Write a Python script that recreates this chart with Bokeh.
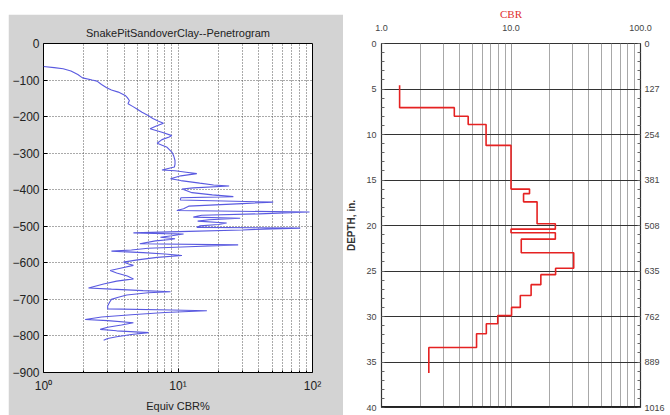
import math
from bokeh.plotting import figure
from bokeh.models import Range1d, FixedTicker, LinearAxis, Span, Spacer, Label
from bokeh.layouts import row, column
from bokeh.embed import file_html
from bokeh.resources import INLINE

# ---------------- Left panel: penetrogram ----------------
pen_depth = [-63, -66, -69, -75, -85, -94, -100, -103, -112, -121, -127, -133, -142, -148,
             -156, -165, -172, -179, -188, -197, -205, -212, -218, -226, -233, -243, -252,
             -256, -263, -273, -284, -297, -308, -320, -330, -338, -346, -348, -352, -356,
             -362, -370, -375, -382, -387, -390, -395, -398, -402, -408, -414, -419, -422,
             -428, -434, -438, -445, -452, -457, -461, -466, -470, -475, -478, -482, -486,
             -491, -495, -499, -503, -505, -507, -510, -514, -518, -520, -521, -526, -530,
             -534, -536, -540, -548, -551, -556, -560, -565, -568, -572, -576, -580, -585,
             -592, -598, -603, -607, -614, -621, -628, -636, -644, -650, -658, -669, -672,
             -676, -679, -682, -688, -694, -700, -708, -718, -726, -729, -731, -736, -742,
             -748, -755, -758, -764, -770, -776, -782, -786, -791, -796, -802, -807, -812]
pen_cbr = [1.0, 1.2, 1.4, 1.6, 1.8, 1.95, 2.3, 2.5, 2.7, 2.95, 3.2, 3.6, 4.05, 4.2,
           4.35, 4.25, 4.6, 4.95, 5.4, 6.0, 6.5, 7.1, 7.8, 6.9, 6.2, 7.6, 9.0,
           8.6, 7.6, 7.0, 8.3, 9.0, 9.3, 9.5, 9.5, 9.4, 7.6, 9.5, 11.5, 13.8,
           10.5, 8.8, 10.5, 14.5, 18.4, 24.0, 13.0, 10.7, 11.5, 12.7, 18.0, 25.8, 10.5,
           10.4, 51.0, 30.0, 12.0, 11.0, 9.8, 95.0, 40.0, 15.0, 13.0, 29.0, 17.0, 14.0,
           23.0, 20.0, 14.5, 13.8, 81.0, 50.0, 30.0, 12.0, 4.66, 8.0, 11.0, 9.0, 7.4,
           9.5, 8.8, 6.8, 5.2, 28.0, 12.0, 6.0, 4.5, 3.2, 5.5, 8.0, 10.7, 7.0,
           5.0, 3.93, 4.3, 4.66, 3.8, 3.13, 3.5, 4.2, 4.66, 3.5, 2.8, 2.16, 3.2,
           5.5, 8.8, 6.0, 4.16, 3.6, 3.2, 3.1, 3.0, 3.0, 9.0, 16.4, 8.0, 4.5,
           2.7, 2.04, 3.0, 4.66, 3.8, 3.0, 2.64, 3.5, 6.04, 4.5, 3.5, 3.0, 2.8]

left_x_ticks = [1, 10, 100]
left_x_labels = ["10\u2070", "10\u00b9", "10\u00b2"]
left_x_minor = [2, 3, 4, 5, 6, 7, 8, 9, 20, 30, 40, 50, 60, 70, 80, 90]
left_y_ticks = [-900, -800, -700, -600, -500, -400, -300, -200, -100, 0]

# ---------------- Right panel: CBR step profile ----------------
step_cbr = [1.38, 1.38, 3.65, 3.65, 4.67, 4.67, 6.42, 6.42, 10.0, 10.0, 13.9, 13.9, 12.5,
            12.5, 15.9, 15.9, 22.0, 22.0, 10.0, 10.0, 22.0, 22.0, 12.0, 12.0, 30.5, 30.5,
            22.1, 22.1, 17.0, 17.0, 14.3, 14.3, 11.8, 11.8, 10.1, 10.1, 7.9, 7.9, 6.45,
            6.45, 5.42, 5.42, 2.32, 2.32]
step_depth = [4.6, 7.05, 7.05, 8.0, 8.0, 8.9, 8.9, 11.2, 11.2, 16.0, 16.0, 16.5, 16.5,
              17.4, 17.4, 19.8, 19.8, 20.4, 20.4, 20.8, 20.8, 21.5, 21.5, 23.0, 23.0, 24.7,
              24.7, 25.4, 25.4, 26.5, 26.5, 27.7, 27.7, 29.0, 29.0, 29.9, 29.9, 30.8, 30.8,
              31.9, 31.9, 33.4, 33.4, 36.2]

right_x_ticks = [1, 10, 100]
right_x_labels = ["1.0", "10.0", "100.0"]
right_x_minor = [2, 3, 4, 5, 6, 7, 8, 9, 20, 30, 40, 50, 60, 70, 80, 90]
depth_in_ticks = [0, 5, 10, 15, 20, 25, 30, 35, 40]
depth_in_minor = list(range(0, 41))
depth_mm_ticks = [0, 127, 254, 381, 508, 635, 762, 889, 1016]
depth_mm_minor = [round(i * 25.4, 1) for i in range(0, 41)]
depth_hlines = [5, 10, 15, 20, 25, 30, 35]

FONT = "Liberation Sans"

# ---------- left figure ----------
lp = figure(width=335, height=401, x_axis_type="log",
            x_range=Range1d(1, 100), y_range=Range1d(-900, 0),
            output_backend="svg", toolbar_location=None,
            title="SnakePitSandoverClay--Penetrogram",
            min_border_left=35, min_border_right=31, min_border_top=29, min_border_bottom=43)
lp.border_fill_color = "#d3d3d3"
lp.background_fill_color = "white"
lp.outline_line_color = "black"
lp.outline_line_width = 1
lp.title.align = "center"
lp.title.text_font = FONT
lp.title.text_font_style = "normal"
lp.title.text_font_size = "11px"
lp.title.text_color = "#222222"
lp.title.standoff = 10

xt = FixedTicker(ticks=left_x_ticks, minor_ticks=left_x_minor)
yt = FixedTicker(ticks=left_y_ticks)
lp.xaxis.ticker = xt
lp.yaxis.ticker = yt
lp.xaxis.major_label_overrides = {t: l for t, l in zip(left_x_ticks, left_x_labels)}
for ax in (lp.xaxis[0], lp.yaxis[0]):
    ax.axis_line_color = None
    ax.major_tick_in = 4
    ax.major_tick_out = 0
    ax.minor_tick_in = 2
    ax.minor_tick_out = 0
    ax.major_tick_line_color = "black"
    ax.minor_tick_line_color = "black"
    ax.major_label_text_font = FONT
    ax.major_label_text_font_size = "12px"
    ax.major_label_text_color = "#222222"
lp.yaxis.major_label_standoff = 4
lp.xaxis.major_label_standoff = 6
lp.xaxis.axis_label = "Equiv CBR%"
lp.xaxis.axis_label_text_font = FONT
lp.xaxis.axis_label_text_font_style = "normal"
lp.xaxis.axis_label_text_font_size = "11px"
lp.xaxis.axis_label_text_color = "#222222"
lp.xaxis.axis_label_standoff = 4

lp.xgrid.ticker = xt
lp.ygrid.ticker = yt
for g in (lp.xgrid[0], lp.ygrid[0]):
    g.grid_line_color = "#555555"
    g.grid_line_dash = "1 2"
    g.grid_line_width = 1
lp.xgrid.minor_grid_line_color = "#555555"
lp.xgrid.minor_grid_line_dash = "1 2"

lp.line(pen_cbr, pen_depth, line_color="#5a5ae0", line_width=1.1)

# ---------- right figure ----------
rp = figure(width=326, height=414, x_axis_type="log",
            x_range=Range1d(1, 100), y_range=Range1d(40, 0),
            x_axis_location="above",
            output_backend="svg", toolbar_location=None,
            min_border_left=33, min_border_right=29, min_border_top=43, min_border_bottom=7)
rp.extra_y_ranges = {"mm": Range1d(1016, 0)}
rp.border_fill_color = "white"
rp.background_fill_color = "white"
rp.outline_line_color = "#333333"
rp.outline_line_width = 1.2

rxt = FixedTicker(ticks=right_x_ticks, minor_ticks=right_x_minor)
rp.xaxis.ticker = rxt
rp.xaxis.major_label_overrides = {t: l for t, l in zip(right_x_ticks, right_x_labels)}
rp.xaxis.axis_line_color = None
rp.xaxis.major_tick_line_color = None
rp.xaxis.minor_tick_line_color = None
rp.xaxis.major_label_text_font = FONT
rp.xaxis.major_label_text_font_size = "9px"
rp.xaxis.major_label_text_color = "#444444"
rp.xaxis.major_label_standoff = 7
rp.xaxis.axis_label = "CBR"
rp.xaxis.axis_label_text_font = "Liberation Serif"
rp.xaxis.axis_label_text_font_style = "normal"
rp.xaxis.axis_label_text_font_size = "11px"
rp.xaxis.axis_label_text_color = "#e03030"
rp.xaxis.axis_label_standoff = 2

lyt = FixedTicker(ticks=depth_in_ticks, minor_ticks=depth_in_minor)
rp.yaxis.ticker = lyt
ya = rp.yaxis[0]
ya.axis_line_color = "#333333"
ya.major_tick_in = 0
ya.major_tick_out = 0
ya.minor_tick_in = 3
ya.minor_tick_out = 0
ya.minor_tick_line_color = "#666666"
ya.major_label_text_font = FONT
ya.major_label_text_font_size = "9px"
ya.major_label_text_color = "#444444"
ya.major_label_standoff = 5
ya.axis_label = "DEPTH, in."
ya.axis_label_text_font = FONT
ya.axis_label_text_font_style = "bold"
ya.axis_label_text_font_size = "10px"
ya.axis_label_text_color = "#333333"
ya.axis_label_standoff = 6

mm_axis = LinearAxis(y_range_name="mm",
                     ticker=FixedTicker(ticks=depth_mm_ticks, minor_ticks=depth_mm_minor))
mm_axis.axis_line_color = "#333333"
mm_axis.major_tick_in = 0
mm_axis.major_tick_out = 0
mm_axis.minor_tick_in = 3
mm_axis.minor_tick_out = 0
mm_axis.minor_tick_line_color = "#666666"
mm_axis.major_label_text_font = FONT
mm_axis.major_label_text_font_size = "9px"
mm_axis.major_label_text_color = "#444444"
mm_axis.major_label_standoff = 4
rp.add_layout(mm_axis, "right")

rp.xgrid.ticker = rxt
rp.xgrid.grid_line_color = "#9a9a9a"
rp.xgrid.grid_line_width = 1
rp.xgrid.minor_grid_line_color = "#a8a8a8"
rp.xgrid.minor_grid_line_width = 1
rp.ygrid.ticker = FixedTicker(ticks=depth_hlines)
rp.ygrid.grid_line_color = "#333333"
rp.ygrid.grid_line_width = 1

rp.add_layout(Span(location=depth_in_ticks[-1], dimension="width",
                   line_color="#222222", line_width=3))

# right-hand (mm) axis title at the page edge
rp.add_layout(Label(x=150, y=22, text="DEPTH, mm", angle=-math.pi / 2,
                    text_align="center", text_baseline="middle",
                    text_font=FONT, text_font_style="bold", text_font_size="9px",
                    text_color="#555555"))

rp.line(step_cbr, step_depth, line_color="#e52222", line_width=1.6)

layout = row(Spacer(width=8, height=10),
             column(Spacer(width=335, height=14), lp),
             rp)

open("out.html", "w").write(file_html(layout, INLINE))
